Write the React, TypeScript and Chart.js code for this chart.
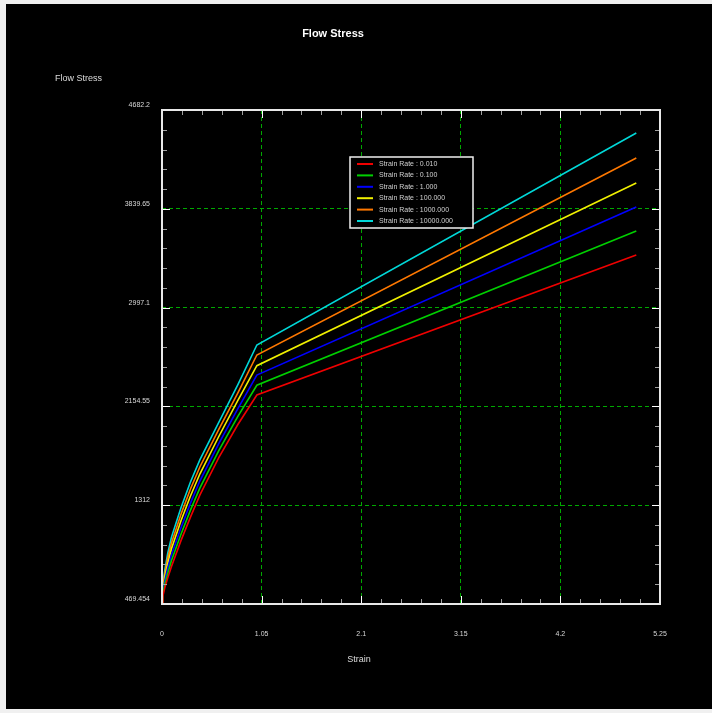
import React, { useEffect, useRef } from 'react';
import { Chart, registerables } from 'chart.js';

Chart.register(...registerables);

// ---- data ----
const strain = [0, 0.01, 0.03, 0.06, 0.1, 0.2, 0.3, 0.4, 0.6, 0.8, 1.0, 5.0];
const rate0_010 = [469, 540, 610, 690, 790, 1010, 1210, 1400, 1720, 2000, 2252, 3446];
const rate0_100 = [471, 560, 640, 730, 840, 1065, 1270, 1460, 1780, 2070, 2335, 3650];
const rate1_000 = [473, 580, 670, 775, 890, 1120, 1330, 1520, 1840, 2135, 2422, 3855];
const rate100_000 = [476, 600, 700, 815, 940, 1180, 1390, 1580, 1900, 2205, 2502, 4060];
const rate1000_000 = [478, 620, 730, 860, 990, 1235, 1450, 1640, 1960, 2270, 2593, 4273];
const rate10000_000 = [480, 640, 760, 900, 1040, 1290, 1510, 1700, 2020, 2340, 2678, 4486];

const seriesLabels = [
  'Strain Rate : 0.010',
  'Strain Rate : 0.100',
  'Strain Rate : 1.000',
  'Strain Rate : 100.000',
  'Strain Rate : 1000.000',
  'Strain Rate : 10000.000',
];
const seriesValues = [rate0_010, rate0_100, rate1_000, rate100_000, rate1000_000, rate10000_000];
const seriesColors = ['#f00000', '#00d000', '#0000ff', '#f0f000', '#ff7800', '#00d8d8'];

const xTickValues = [0, 1.05, 2.1, 3.15, 4.2, 5.25];
const xTickLabels = ['0', '1.05', '2.1', '3.15', '4.2', '5.25'];
const yTickValues = [469.454, 1312, 2154.55, 2997.1, 3839.65, 4682.2];
const yTickLabels = ['469.454', '1312', '2154.55', '2997.1', '3839.65', '4682.2'];

const FONT = "'Liberation Sans', Arial, sans-serif";

function tickSet(major: number[], sub: number) {
  const out: { v: number; major: boolean }[] = [];
  for (let i = 0; i < major.length; i++) {
    out.push({ v: major[i], major: true });
    if (i < major.length - 1) {
      for (let k = 1; k < sub; k++) {
        out.push({ v: major[i] + ((major[i + 1] - major[i]) * k) / sub, major: false });
      }
    }
  }
  return out;
}

const decorPlugin = {
  id: 'decor',
  afterDatasetsDraw(chart: any) {
    const { ctx, chartArea: a, scales } = chart;
    const xs = scales.x;
    const ys = scales.y;
    ctx.save();
    // tick marks pointing inward on all four sides
    const MAJ = 8;
    const MIN = 5;
    const xt = tickSet(xTickValues, 5);
    const yt = tickSet(yTickValues, 5);
    for (const t of xt) {
      const px = Math.round(xs.getPixelForValue(t.v)) + 0.5;
      if (px < a.left + 2 || px > a.right - 2) continue;
      const len = t.major ? MAJ : MIN;
      ctx.strokeStyle = t.major ? '#ffffff' : '#a0a0a0';
      ctx.lineWidth = 1;
      ctx.beginPath();
      ctx.moveTo(px, a.bottom);
      ctx.lineTo(px, a.bottom - len);
      ctx.moveTo(px, a.top);
      ctx.lineTo(px, a.top + len);
      ctx.stroke();
    }
    for (const t of yt) {
      const py = Math.round(ys.getPixelForValue(t.v)) + 0.5;
      if (py < a.top + 2 || py > a.bottom - 2) continue;
      const len = t.major ? MAJ : MIN;
      ctx.strokeStyle = t.major ? '#ffffff' : '#a0a0a0';
      ctx.lineWidth = 1;
      ctx.beginPath();
      ctx.moveTo(a.left, py);
      ctx.lineTo(a.left + len, py);
      ctx.moveTo(a.right, py);
      ctx.lineTo(a.right - len, py);
      ctx.stroke();
    }
    // frame
    ctx.strokeStyle = '#e8e8e8';
    ctx.lineWidth = 2;
    ctx.strokeRect(a.left, a.top, a.right - a.left, a.bottom - a.top);

    // axis titles
    ctx.fillStyle = '#dcdcdc';
    ctx.font = `9px ${FONT}`;
    ctx.textBaseline = 'middle';
    ctx.textAlign = 'left';
    ctx.fillText('Flow Stress', 49, 75);
    ctx.textAlign = 'center';
    ctx.fillText('Strain', chart.width / 2, 656);

    // legend box
    const lx = 344;
    const ly = 153;
    const lw = 123;
    const lh = 71;
    ctx.fillStyle = '#000000';
    ctx.fillRect(lx, ly, lw, lh);
    ctx.strokeStyle = '#f0f0f0';
    ctx.lineWidth = 1.5;
    ctx.strokeRect(lx, ly, lw, lh);
    ctx.font = `7px ${FONT}`;
    ctx.textAlign = 'left';
    ctx.textBaseline = 'middle';
    chart.data.datasets.forEach((ds: any, i: number) => {
      const ry = ly + 7 + i * 11.4;
      ctx.strokeStyle = ds.borderColor;
      ctx.lineWidth = 2;
      ctx.beginPath();
      ctx.moveTo(lx + 7, ry);
      ctx.lineTo(lx + 23, ry);
      ctx.stroke();
      ctx.fillStyle = '#d0d0d0';
      ctx.fillText(ds.label, lx + 29, ry);
    });
    ctx.restore();
  },
};

export default function App() {
  const ref = useRef<HTMLCanvasElement | null>(null);

  useEffect(() => {
    document.body.style.margin = '0';
    document.body.style.background = '#f0f0f0';
    const canvas = ref.current;
    if (!canvas) return;
    const gridColor = (c: any) => {
      const v = c.tick ? c.tick.value : null;
      return c.index === 0 || c.index === 5 || v === null ? 'rgba(0,0,0,0)' : '#00a800';
    };
    const chart = new Chart(canvas, {
      type: 'line',
      data: {
        datasets: seriesValues.map((vals, i) => ({
          label: seriesLabels[i],
          data: strain.map((s, j) => ({ x: s, y: vals[j] })),
          borderColor: seriesColors[i],
          backgroundColor: seriesColors[i],
          borderWidth: 1.6,
          pointRadius: 0,
          tension: 0,
          fill: false,
        })),
      },
      options: {
        animation: false,
        responsive: false,
        devicePixelRatio: 1,
        events: [],
        layout: { padding: { left: 0, right: 52, top: 0, bottom: 65 } },
        plugins: {
          legend: { display: false },
          tooltip: { enabled: false },
          title: {
            display: true,
            text: 'Flow Stress',
            color: '#ffffff',
            font: { family: FONT, size: 11, weight: 'bold', lineHeight: 1.2 },
            padding: { top: 23, bottom: 69.8 },
          },
        },
        scales: {
          x: {
            type: 'linear',
            min: 0,
            max: 5.25,
            afterBuildTicks: (s: any) => {
              s.ticks = xTickValues.map((v) => ({ value: v }));
            },
            afterFit: (s: any) => {
              s.height = 40;
            },
            ticks: {
              autoSkip: false,
              maxRotation: 0,
              color: '#d8d8d8',
              font: { family: FONT, size: 7 },
              padding: 26,
              callback: (_v: any, i: number) => xTickLabels[i],
            },
            grid: { color: gridColor, lineWidth: 1, drawTicks: false },
            border: { display: false, dash: [4, 3] },
          },
          y: {
            type: 'linear',
            min: yTickValues[0],
            max: yTickValues[yTickValues.length - 1],
            afterBuildTicks: (s: any) => {
              s.ticks = yTickValues.map((v) => ({ value: v }));
            },
            afterFit: (s: any) => {
              s.width = 156;
            },
            ticks: {
              autoSkip: false,
              color: '#d8d8d8',
              font: { family: FONT, size: 7 },
              padding: 12,
              labelOffset: -5,
              callback: (_v: any, i: number) => yTickLabels[i],
            },
            grid: { color: gridColor, lineWidth: 1, drawTicks: false },
            border: { display: false, dash: [4, 3] },
          },
        },
      } as any,
      plugins: [decorPlugin],
    });
    return () => chart.destroy();
  }, []);

  return (
    <div style={{ position: 'absolute', left: 6, top: 4, width: 706, height: 705 }}>
      <canvas
        ref={ref}
        width={706}
        height={705}
        style={{ display: 'block', background: '#000000', width: 706, height: 705 }}
      />
    </div>
  );
}
